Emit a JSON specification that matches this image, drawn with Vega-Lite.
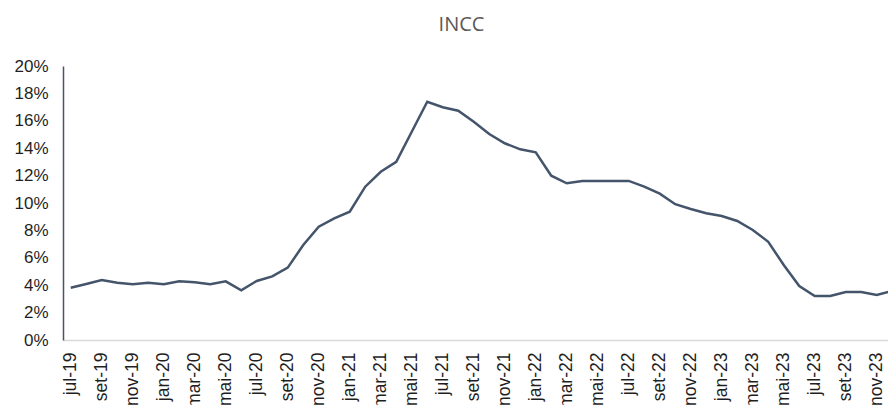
{
  "$schema": "https://vega.github.io/schema/vega-lite/v6.json",
  "autosize": {"type": "none"},
  "padding": {"left": 63, "top": 66, "right": 0, "bottom": 65},
  "width": 837,
  "height": 274,
  "background": "white",
  "title": {
    "text": "INCC",
    "font": "Open Sans",
    "fontSize": 20,
    "fontWeight": "normal",
    "color": "#595959",
    "anchor": "middle",
    "frame": "group",
    "dx": -20,
    "offset": 22
  },
  "config": {"view": {"stroke": null}},
  "data": {
    "values": [
      {"m": "jul-19", "v": 3.82},
      {"m": "ago-19", "v": 4.09},
      {"m": "set-19", "v": 4.38},
      {"m": "out-19", "v": 4.18},
      {"m": "nov-19", "v": 4.07},
      {"m": "dez-19", "v": 4.18},
      {"m": "jan-20", "v": 4.07},
      {"m": "fev-20", "v": 4.28},
      {"m": "mar-20", "v": 4.21},
      {"m": "abr-20", "v": 4.07},
      {"m": "mai-20", "v": 4.28},
      {"m": "jun-20", "v": 3.63},
      {"m": "jul-20", "v": 4.31},
      {"m": "ago-20", "v": 4.64},
      {"m": "set-20", "v": 5.28},
      {"m": "out-20", "v": 6.93},
      {"m": "nov-20", "v": 8.27},
      {"m": "dez-20", "v": 8.88},
      {"m": "jan-21", "v": 9.36},
      {"m": "fev-21", "v": 11.19},
      {"m": "mar-21", "v": 12.28},
      {"m": "abr-21", "v": 13.01},
      {"m": "mai-21", "v": 15.2},
      {"m": "jun-21", "v": 17.39},
      {"m": "jul-21", "v": 16.99},
      {"m": "ago-21", "v": 16.74},
      {"m": "set-21", "v": 15.93},
      {"m": "out-21", "v": 15.04},
      {"m": "nov-21", "v": 14.36},
      {"m": "dez-21", "v": 13.92},
      {"m": "jan-22", "v": 13.7},
      {"m": "fev-22", "v": 11.99},
      {"m": "mar-22", "v": 11.44},
      {"m": "abr-22", "v": 11.61},
      {"m": "mai-22", "v": 11.61},
      {"m": "jun-22", "v": 11.61},
      {"m": "jul-22", "v": 11.61},
      {"m": "ago-22", "v": 11.19},
      {"m": "set-22", "v": 10.68},
      {"m": "out-22", "v": 9.91},
      {"m": "nov-22", "v": 9.56},
      {"m": "dez-22", "v": 9.25},
      {"m": "jan-23", "v": 9.05},
      {"m": "fev-23", "v": 8.69},
      {"m": "mar-23", "v": 8.03},
      {"m": "abr-23", "v": 7.17},
      {"m": "mai-23", "v": 5.47},
      {"m": "jun-23", "v": 3.94},
      {"m": "jul-23", "v": 3.21},
      {"m": "ago-23", "v": 3.21},
      {"m": "set-23", "v": 3.5},
      {"m": "out-23", "v": 3.5},
      {"m": "nov-23", "v": 3.28},
      {"m": "dez-23", "v": 3.58}
    ]
  },
  "mark": {"type": "line", "color": "#44546A", "strokeWidth": 2.5, "strokeJoin": "miter"},
  "encoding": {
    "x": {
      "field": "m",
      "type": "ordinal",
      "sort": null,
      "scale": {"type": "point", "padding": 0.5},
      "axis": {
        "title": null,
        "values": ["jul-19", "set-19", "nov-19", "jan-20", "mar-20", "mai-20", "jul-20", "set-20", "nov-20", "jan-21", "mar-21", "mai-21", "jul-21", "set-21", "nov-21", "jan-22", "mar-22", "mai-22", "jul-22", "set-22", "nov-22", "jan-23", "mar-23", "mai-23", "jul-23", "set-23", "nov-23"],
        "labelAngle": -90,
        "labelAlign": "right",
        "labelBaseline": "middle",
        "labelPadding": 12,
        "labelFont": "Liberation Sans",
        "labelFontSize": 17.5,
        "labelColor": "#1f1f1f",
        "labelOverlap": false,
        "ticks": false,
        "grid": false,
        "domainColor": "#D9D9D9",
        "domainWidth": 1.5
      }
    },
    "y": {
      "field": "v",
      "type": "quantitative",
      "scale": {"domain": [0, 20], "nice": false},
      "axis": {
        "title": null,
        "values": [0, 2, 4, 6, 8, 10, 12, 14, 16, 18, 20],
        "labelExpr": "datum.value + '%'",
        "labelFont": "Liberation Sans",
        "labelFontSize": 17,
        "labelColor": "#1f1f1f",
        "labelPadding": 15,
        "ticks": false,
        "grid": false,
        "domainColor": "#44546A",
        "domainWidth": 1.5
      }
    }
  }
}
